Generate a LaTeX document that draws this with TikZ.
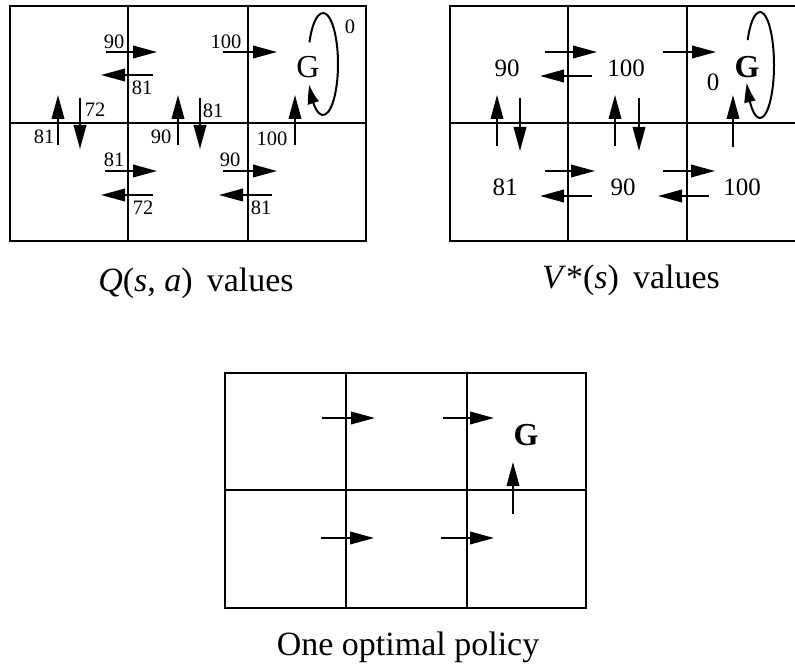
\documentclass[tikz,border=0pt]{standalone}
\usepackage{fontspec}
\setmainfont{Liberation Serif}
\usetikzlibrary{arrows.meta,bending}
\begin{document}
\begin{tikzpicture}[x=1pt,y=-1pt,
  grid/.style={line width=2pt},
  arr/.style={line width=2pt,-{Triangle[length=24pt,width=12.5pt]}},
  looparr/.style={line width=2pt,-{Triangle[length=20pt,width=11pt,bend]}},
  ql/.style={inner sep=0pt,font=\fontsize{20.5}{22}\selectfont},
  vl/.style={inner sep=0pt,font=\fontsize{25}{28}\selectfont},
  gl/.style={inner sep=0pt,font=\fontsize{32}{34}\selectfont},
  gb/.style={inner sep=0pt,font=\fontsize{32}{34}\selectfont\bfseries},
  captext/.style={inner sep=0pt,anchor=base,font=\fontsize{34}{38}\selectfont}]
\useasboundingbox (0,0) rectangle (795,668);
% ---------------- Q grid ----------------
\draw[grid] (10,6) rectangle (366,241);
\draw[grid] (10,123) -- (366,123);
\draw[grid] (128,6) -- (128,241);
\draw[grid] (248,6) -- (248,241);
% top row horizontal
\draw[arr] (106,52) -- (157,52);
\draw[arr] (153,75) -- (101,75);
\draw[arr] (223,52) -- (277,52);
\node[ql] (q90a) at (114,42) {90};
\node[ql] (q81a) at (142,88) {81};
\node[ql] (q100a) at (226,42) {100};
% goal
\node[gl] (qG) at (308,67) {G};
\draw[looparr] (323,64) ++(205:15 and 51) arc[start angle=205,end angle=516,x radius=15,y radius=51];
\node[ql] (q0) at (350,27) {0};
% vertical
\draw[arr] (58,145) -- (58,95);
\draw[arr] (80,98) -- (80,149);
\draw[arr] (178,145) -- (178,95);
\draw[arr] (200,98) -- (200,149);
\draw[arr] (295,145) -- (295,95);
\node[ql] (q81b) at (44,137) {81};
\node[ql] (q72a) at (95,110) {72};
\node[ql] (q90b) at (161,137) {90};
\node[ql] (q81c) at (213,111) {81};
\node[ql] (q100b) at (272,139) {100};
% bottom row
\draw[arr] (105,171) -- (157,171);
\draw[arr] (153,195) -- (101,195);
\draw[arr] (223,171) -- (277,171);
\draw[arr] (272,195) -- (219,195);
\node[ql] (q81d) at (114,160) {81};
\node[ql] (q72b) at (143,208) {72};
\node[ql] (q90c) at (230,160) {90};
\node[ql] (q81e) at (261,208) {81};
\node[captext] (qcap) at (196,291) {\textit{Q}(\textit{s}, \textit{a})\, values};
% ---------------- V grid ----------------
\draw[grid] (795,6) -- (450,6) -- (450,241) -- (795,241);
\draw[grid] (450,123) -- (795,123);
\draw[grid] (568,6) -- (568,241);
\draw[grid] (687,6) -- (687,241);
\draw[arr] (545,52) -- (597,52);
\draw[arr] (592,76) -- (540,76);
\draw[arr] (663,52) -- (716,52);
\node[vl] (v90a) at (507,68) {90};
\node[vl] (v100a) at (626,68) {100};
\node[vl] (v0) at (713,82) {0};
\node[gb] (vG) at (747,67) {G};
\draw[looparr] (760,65) ++(208:14 and 53) arc[start angle=208,end angle=520,x radius=14,y radius=53];
\draw[arr] (497,146) -- (497,95);
\draw[arr] (520,98) -- (520,151);
\draw[arr] (615,146) -- (615,95);
\draw[arr] (639,98) -- (639,151);
\draw[arr] (733,147) -- (733,95);
\draw[arr] (545,171) -- (595,171);
\draw[arr] (592,196) -- (540,196);
\draw[arr] (663,171) -- (715,171);
\draw[arr] (709,196) -- (658,196);
\node[vl] (v81) at (505,187) {81};
\node[vl] (v90b) at (623,187) {90};
\node[vl] (v100b) at (742,187) {100};
\node[captext] (vcap) at (631,289) {\textit{V}*(\textit{s})\, values};
% ---------------- policy grid ----------------
\draw[grid] (225,373) rectangle (586,608);
\draw[grid] (225,490) -- (586,490);
\draw[grid] (346,373) -- (346,608);
\draw[grid] (467,373) -- (467,608);
\draw[arr] (322,418) -- (375,418);
\draw[arr] (443,418) -- (494,418);
\draw[arr] (513,514) -- (513,462);
\draw[arr] (321,538) -- (374,538);
\draw[arr] (441,538) -- (494,538);
\node[gb] (pG) at (526,435) {G};
\node[captext] (pcap) at (408,655) {One optimal policy};
\end{tikzpicture}
\end{document}
